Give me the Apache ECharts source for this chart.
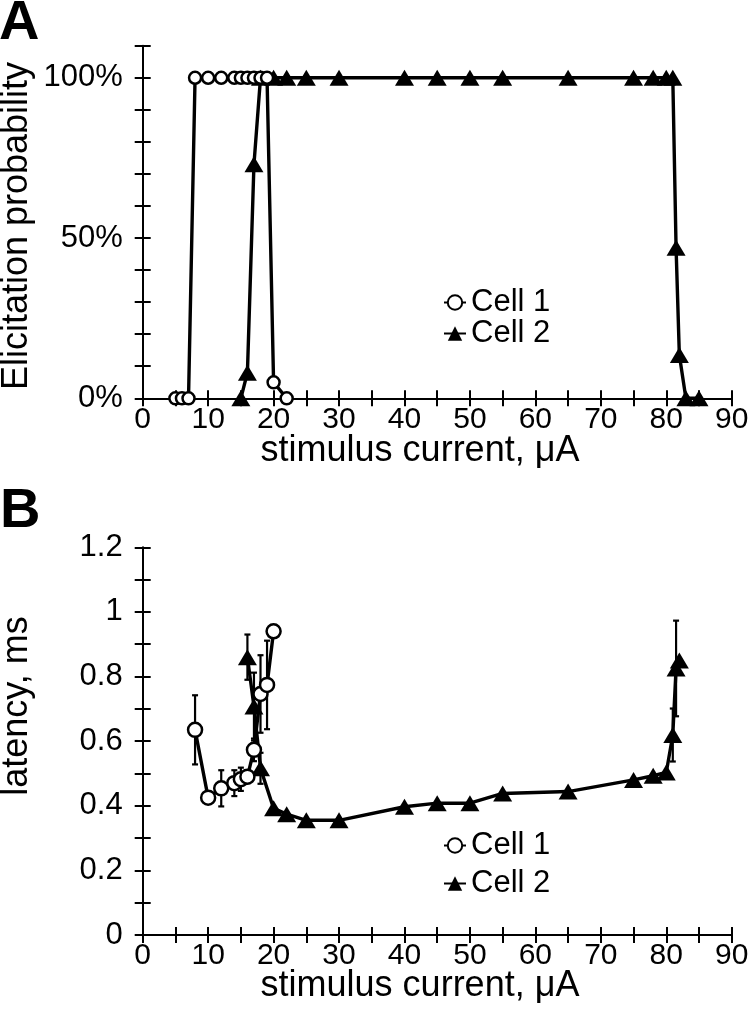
<!DOCTYPE html>
<html>
<head>
<meta charset="utf-8">
<script src="https://cdn.jsdelivr.net/npm/echarts@6/dist/echarts.min.js"></script>
<style>
  html, body { margin: 0; padding: 0; background: #fff; }
  #chart { width: 750px; height: 1032px; }
</style>
</head>
<body>
<div id="chart"></div>
<script>
// panel A: elicitation probability (%)
const c1ProbX = [5, 6, 7, 8, 10, 12, 14, 15, 16, 17, 18, 19, 20, 22];
const c1ProbY = [0, 0, 0, 100, 100, 100, 100, 100, 100, 100, 100, 100, 5, 0];
const c2ProbX = [15, 16, 17, 18, 20, 22, 25, 30, 40, 45, 50, 55, 65, 75, 78, 80, 81, 81.5, 82, 83, 85];
const c2ProbY = [0, 8, 73, 100, 100, 100, 100, 100, 100, 100, 100, 100, 100, 100, 100, 100, 100, 47, 13.5, 0, 0];

// panel B: latency (ms) with error
const c1LatX = [8, 10, 12, 14, 15, 16, 17, 18, 19, 20];
const c1LatY = [0.635, 0.425, 0.454, 0.47, 0.482, 0.49, 0.573, 0.746, 0.774, 0.94];
const c1LatErr = [0.107, 0, 0.056, 0.04, 0.036, 0.02, 0.035, 0.12, 0.137, 0];
const c2LatX = [16, 17, 18, 20, 22, 25, 30, 40, 45, 50, 55, 65, 75, 78, 80, 81, 81.5, 82];
const c2LatY = [0.86, 0.707, 0.516, 0.392, 0.374, 0.355, 0.355, 0.397, 0.408, 0.408, 0.438, 0.444, 0.48, 0.493, 0.503, 0.619, 0.825, 0.85];
const c2LatErr = [0.07, 0.105, 0.048, 0, 0, 0, 0, 0, 0, 0, 0, 0, 0, 0, 0, 0.082, 0.148, 0];

const probLabels = [0, 50, 100];
const latLabels = [0, 0.2, 0.4, 0.6, 0.8, 1, 1.2];

const FONT = '"Liberation Sans", Arial, sans-serif';
const BLACK = '#000';

function pairs(xs, ys) {
  return xs.map((x, i) => [x, ys[i]]);
}
function errData(xs, ys, es) {
  const out = [];
  xs.forEach((x, i) => {
    if (es[i] > 0) out.push([x, ys[i] - es[i], ys[i] + es[i]]);
  });
  return out;
}

// vertical error bar with small caps
function renderErr(params, api) {
  const x = api.value(0);
  const top = api.coord([x, api.value(2)]);
  const bot = api.coord([x, api.value(1)]);
  const cap = 3;
  const st = { stroke: BLACK, lineWidth: 2.2 };
  return {
    type: 'group',
    children: [
      { type: 'line', shape: { x1: top[0], y1: top[1], x2: bot[0], y2: bot[1] }, style: st },
      { type: 'line', shape: { x1: top[0] - cap, y1: top[1], x2: top[0] + cap, y2: top[1] }, style: st },
      { type: 'line', shape: { x1: bot[0] - cap, y1: bot[1], x2: bot[0] + cap, y2: bot[1] }, style: st }
    ]
  };
}

const tickLen = 8;
const labelStyle = { color: BLACK, fontSize: 30, fontFamily: FONT };

function xAxes(gridIndex) {
  const base = {
    type: 'value', gridIndex: gridIndex, min: 0, max: 90, interval: 5,
    position: 'bottom', splitLine: { show: false }
  };
  return [
    Object.assign({}, base, {
      axisLine: { show: true, onZero: false, lineStyle: { color: BLACK, width: 2 } },
      axisTick: { show: true, length: tickLen, lineStyle: { color: BLACK, width: 2 } },
      axisLabel: Object.assign({
        margin: 6,
        formatter: v => (v % 10 === 0 ? String(v) : '')
      }, labelStyle)
    }),
    // inner half of the crossing ticks
    Object.assign({}, base, {
      axisLine: { show: false },
      axisTick: { show: true, inside: true, length: tickLen, lineStyle: { color: BLACK, width: 2 } },
      axisLabel: { show: false }
    })
  ];
}

function yAxes(gridIndex, max, interval, fmt) {
  const base = {
    type: 'value', gridIndex: gridIndex, min: 0, max: max, interval: interval,
    position: 'left', splitLine: { show: false }
  };
  return [
    Object.assign({}, base, {
      axisLine: { show: true, onZero: false, lineStyle: { color: BLACK, width: 2 } },
      axisTick: { show: true, length: tickLen, lineStyle: { color: BLACK, width: 2 } },
      axisLabel: Object.assign({ margin: 20, formatter: fmt }, labelStyle, { fontSize: 31 })
    }),
    Object.assign({}, base, {
      axisLine: { show: false },
      axisTick: { show: true, inside: true, length: tickLen, lineStyle: { color: BLACK, width: 2 } },
      axisLabel: { show: false }
    })
  ];
}

const probFmt = v => (probLabels.indexOf(Math.round(v)) >= 0 ? Math.round(v) + '%' : '');
const latFmt = v => {
  const r = Math.round(v * 10) / 10;
  return latLabels.indexOf(r) >= 0 ? String(r) : '';
};

const circleSeries = {
  type: 'line', symbol: 'circle', symbolSize: 12,
  itemStyle: { color: '#fff', borderColor: BLACK, borderWidth: 2.5 },
  lineStyle: { color: BLACK, width: 3.4 }, z: 3
};
const triSeries = {
  type: 'line', symbol: 'triangle', symbolSize: [19, 16],
  itemStyle: { color: BLACK, borderColor: BLACK, borderWidth: 0 },
  lineStyle: { color: BLACK, width: 3.4 }, z: 2
};

const legendBase = {
  orient: 'vertical', data: ['Cell 1', 'Cell 2'], selectedMode: false,
  itemWidth: 22, itemHeight: 18,
  textStyle: { color: BLACK, fontSize: 31, fontFamily: FONT }
};

const titleFont = '36px ' + FONT;

const option = {
  animation: false,
  backgroundColor: '#fff',
  grid: [
    { left: 142.7, top: 45.7, width: 589, height: 352.6, outerBoundsMode: 'none' },
    { left: 142.7, top: 547.3, width: 589, height: 387.7, outerBoundsMode: 'none' }
  ],
  xAxis: xAxes(0).concat(xAxes(1)),
  yAxis: yAxes(0, 110, 10, probFmt).concat(yAxes(1, 1.2, 0.1, latFmt)),
  legend: [
    Object.assign({}, legendBase, { left: 438, top: 282, itemGap: 0 }),
    Object.assign({}, legendBase, { left: 438, top: 825, itemGap: 7 })
  ],
  graphic: [
    { type: 'text', left: -1, top: -4, style: { text: 'A', fill: BLACK, font: 'bold 56px ' + FONT } },
    { type: 'text', left: 0, top: 484, style: { text: 'B', fill: BLACK, font: 'bold 56px ' + FONT } },
    { type: 'text', x: 17, y: 226, rotation: Math.PI / 2,
      style: { text: 'Elicitation probability', fill: BLACK, font: titleFont, align: 'center', verticalAlign: 'middle' } },
    { type: 'text', x: 17, y: 706, rotation: Math.PI / 2,
      style: { text: 'latency, ms', fill: BLACK, font: titleFont, align: 'center', verticalAlign: 'middle' } },
    { type: 'text', x: 420, y: 451,
      style: { text: 'stimulus current, \u03bcA', fill: BLACK, font: titleFont, align: 'center', verticalAlign: 'middle' } },
    { type: 'text', x: 420, y: 986,
      style: { text: 'stimulus current, \u03bcA', fill: BLACK, font: titleFont, align: 'center', verticalAlign: 'middle' } }
  ],
  series: [
    Object.assign({}, triSeries, { name: 'Cell 2', xAxisIndex: 0, yAxisIndex: 0, data: pairs(c2ProbX, c2ProbY) }),
    Object.assign({}, circleSeries, { name: 'Cell 1', xAxisIndex: 0, yAxisIndex: 0, data: pairs(c1ProbX, c1ProbY) }),
    {
      type: 'custom', name: 'err1', xAxisIndex: 2, yAxisIndex: 2, z: 1,
      renderItem: renderErr, encode: { x: 0, y: [1, 2] },
      data: errData(c1LatX, c1LatY, c1LatErr)
    },
    {
      type: 'custom', name: 'err2', xAxisIndex: 2, yAxisIndex: 2, z: 1,
      renderItem: renderErr, encode: { x: 0, y: [1, 2] },
      data: errData(c2LatX, c2LatY, c2LatErr)
    },
    Object.assign({}, triSeries, { name: 'Cell 2', xAxisIndex: 2, yAxisIndex: 2, data: pairs(c2LatX, c2LatY) }),
    Object.assign({}, circleSeries, { name: 'Cell 1', xAxisIndex: 2, yAxisIndex: 2, symbolSize: 14, data: pairs(c1LatX, c1LatY) })
  ]
};

const chart = echarts.init(document.getElementById('chart'), null, { renderer: 'canvas' });
chart.setOption(option);
</script>
</body>
</html>
